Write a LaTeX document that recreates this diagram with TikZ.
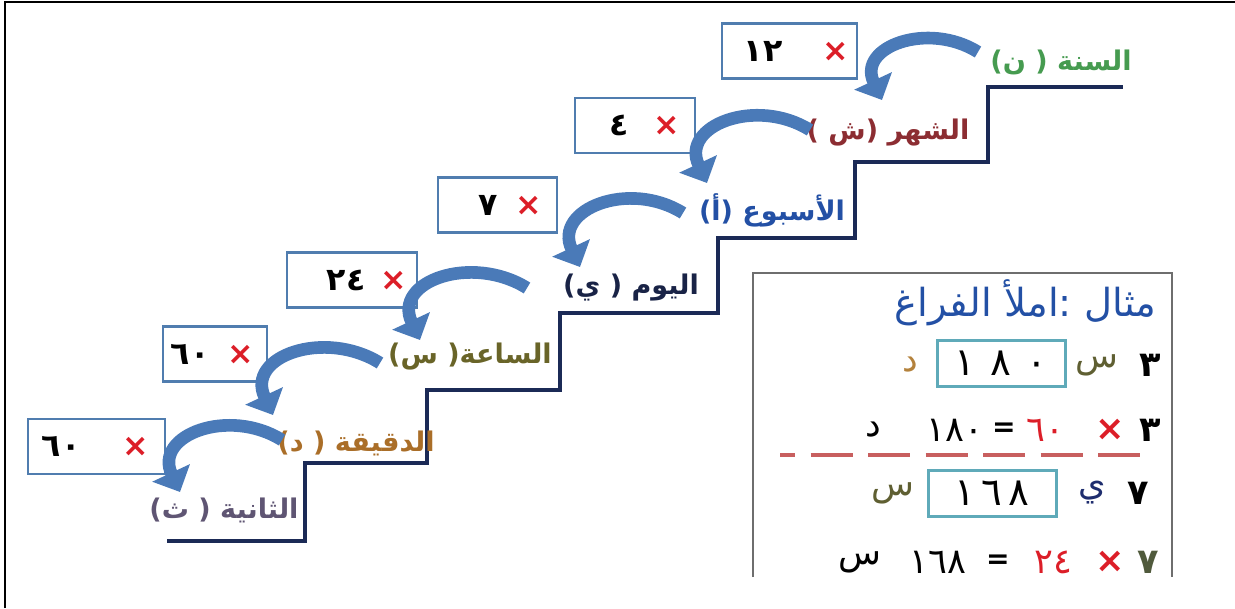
\documentclass[tikz,border=0pt]{standalone}
\usepackage{fontspec}
\usetikzlibrary{arrows.meta,calc}
\TeXXeTstate=1
\newfontfamily\arabicfont[Script=Arabic]{DejaVu Sans}
\definecolor{stair}{RGB}{27,42,86}
\definecolor{boxblue}{RGB}{80,125,175}
\definecolor{arrowblue}{RGB}{74,122,184}
\definecolor{multred}{RGB}{220,30,40}
\definecolor{cSana}{RGB}{70,155,80}
\definecolor{cShahr}{RGB}{140,45,50}
\definecolor{cUsbu}{RGB}{35,80,165}
\definecolor{cYawm}{RGB}{25,35,70}
\definecolor{cSaa}{RGB}{105,100,40}
\definecolor{cDaqiqa}{RGB}{170,110,40}
\definecolor{cThaniya}{RGB}{95,85,115}
\definecolor{panelgray}{RGB}{110,110,110}
\definecolor{tealline}{RGB}{95,170,185}
\definecolor{dashred}{RGB}{200,95,95}
\definecolor{sinolive}{RGB}{95,95,50}
\definecolor{dalbrown}{RGB}{180,130,60}
\definecolor{yablue}{RGB}{30,45,110}
\definecolor{sabagreen}{RGB}{80,90,60}
\newcommand\mult{\textcolor{multred}{\bfseries ×}}

\begin{document}
\begin{tikzpicture}[
  stairline/.style={draw=stair, line width=1pt},
  lbl/.style={inner sep=0pt, font=\arabicfont\bfseries\fontsize{7.7}{9}\selectfont},
  mbox/.style={draw=boxblue, line width=0.8pt, text width=#1, align=right,
    inner xsep=0pt, minimum height=0.55cm,
    font=\arabicfont\bfseries\fontsize{9}{10}\selectfont},
  bendarrow/.style={draw=arrowblue, line width=3.6pt,
    -{Triangle[width=11.5pt,length=6pt]}},
  ptxt/.style={inner sep=0pt, font=\arabicfont\fontsize{10}{12}\selectfont},
  eqsign/.style={inner sep=0pt, font=\arabicfont\bfseries\fontsize{8}{10}\selectfont},
  tealbox/.style={ptxt, draw=tealline, line width=0.85pt,
    minimum width=1.28cm, minimum height=0.46cm,
    font=\arabicfont\fontsize{11}{12}\selectfont}
]
\useasboundingbox (0,0) rectangle (12.35,6.08);
% frame of the page
\draw[line width=0.6pt] (0.05,0) -- (0.05,6.06) -- (12.35,6.06);

% stairs
\draw[stairline] (1.67,0.67) -- (3.05,0.67) -- (3.05,1.45) -- (4.27,1.45)
  -- (4.27,2.18) -- (5.60,2.18) -- (5.60,2.95) -- (7.18,2.95) -- (7.18,3.70)
  -- (8.55,3.70) -- (8.55,4.46) -- (9.88,4.46) -- (9.88,5.21) -- (11.23,5.21);

% units on the steps
\node[lbl, text=cSana] (sana) at (10.61,5.46) {\beginR السنة ( ن)\endR};
\node[lbl, text=cShahr] (shahr) at (8.88,4.75) {\beginR الشهر (ش )\endR};
\node[lbl, text=cUsbu] (usbu) at (7.72,3.98) {\beginR الأسبوع (أ)\endR};
\node[lbl, text=cYawm] (yawm) at (6.31,3.20) {\beginR اليوم ( ي)\endR};
\node[lbl, text=cSaa] (saa) at (4.70,2.51) {\beginR الساعة( س)\endR};
\node[lbl, text=cDaqiqa] (daqiqa) at (3.56,1.65) {\beginR الدقيقة ( د)\endR};
\node[lbl, text=cThaniya] (thaniya) at (2.24,0.98) {\beginR الثانية ( ث)\endR};

% multipliers
\node[mbox=1.35cm] (m1) at (7.895,5.57) {\mbox{١٢\hspace{0.4cm}\mult\hspace{0.08cm}}};
\node[mbox=1.20cm] (m2) at (6.35,4.825) {\mbox{٤\hspace{0.25cm}\mult\hspace{0.15cm}}};
\node[mbox=1.19cm] (m3) at (4.975,4.03) {\mbox{٧\hspace{0.18cm}\mult\hspace{0.15cm}}};
\node[mbox=1.30cm] (m4) at (3.52,3.28) {\mbox{٢٤\hspace{0.15cm}\mult\hspace{0.1cm}}};
\node[mbox=1.04cm] (m5) at (2.15,2.54) {\mbox{٦٠\hspace{0.18cm}\mult\hspace{0.13cm}}};
\node[mbox=1.37cm] (m6) at (0.965,1.615) {\mbox{٦٠\hspace{0.42cm}\mult\hspace{0.16cm}}};

% curved arrows down the stairs
\draw[bendarrow] ($(sana)+(-0.83,0.10)$) to[out=148,in=115,looseness=1.4] ($(shahr)+(-0.06,0.33)$);
\draw[bendarrow] ($(shahr)+(-0.78,0.03)$) to[out=148,in=115,looseness=1.4] ($(usbu)+(-0.65,0.27)$);
\draw[bendarrow] ($(usbu)+(-0.89,-0.03)$) to[out=148,in=115,looseness=1.4] ($(yawm)+(-0.51,0.21)$);
\draw[bendarrow] ($(yawm)+(-1.04,0)$) to[out=148,in=115,looseness=1.4] ($(saa)+(-0.50,0.17)$);
\draw[bendarrow] ($(saa)+(-0.90,-0.06)$) to[out=148,in=115,looseness=1.4] ($(daqiqa)+(-0.83,0.28)$);
\draw[bendarrow] ($(daqiqa)+(-0.74,0.03)$) to[out=148,in=115,looseness=1.4] ($(thaniya)+(-0.44,0.18)$);

% example panel
\draw[draw=panelgray, line width=0.6pt] (7.53,0.31) -- (7.53,3.35) -- (11.72,3.35) -- (11.72,0.31);
\node[ptxt, text=cUsbu, anchor=east, font=\arabicfont\fontsize{11}{13}\selectfont] (title)
  at (11.57,3.05) {\beginR مثال :املأ الفراغ\endR};

\node[ptxt, font=\arabicfont\bfseries\fontsize{10}{12}\selectfont] (a1) at (11.50,2.43) {٣};
\node[ptxt, text=sinolive] (a2) at (10.97,2.43) {س};
\node[tealbox] (a3) at (10.01,2.445) {١\hspace{0.15cm}٨\hspace{0.15cm}٠};
\node[ptxt, text=dalbrown] (a4) at (9.10,2.43) {د};

\node[ptxt, font=\arabicfont\bfseries\fontsize{10}{12}\selectfont] (b1) at (11.50,1.78) {٣};
\node[ptxt] (b2) at (11.10,1.78) {\mult};
\node[ptxt, text=multred] (b3) at (10.45,1.78) {٦٠};
\node[eqsign] (b4) at (10.04,1.78) {=};
\node[ptxt] (b5) at (9.55,1.78) {١٨٠};
\node[ptxt] (b6) at (8.73,1.78) {د};

\draw[dashred, line width=1.4pt, dash pattern=on 0.42cm off 0.155cm, dash phase=0.27cm]
  (7.80,1.53) -- (11.42,1.53);

\node[ptxt, font=\arabicfont\bfseries\fontsize{10}{12}\selectfont] (c1) at (11.38,1.15) {٧};
\node[ptxt, text=yablue] (c2) at (10.92,1.15) {ي};
\node[tealbox] (c3) at (9.92,1.15) {١\hspace{0.06cm}٦\hspace{0.06cm}٨};
\node[ptxt, text=sinolive] (c4) at (8.93,1.15) {س};

\begin{scope}
  \clip (7.53,0.31) rectangle (11.72,3.35);
  \node[ptxt, text=sabagreen, font=\arabicfont\bfseries\fontsize{10}{12}\selectfont] (d1) at (11.48,0.46) {٧};
  \node[ptxt] (d2) at (11.10,0.46) {\mult};
  \node[ptxt, text=multred] (d3) at (10.53,0.46) {٢٤};
  \node[eqsign] (d4) at (9.98,0.46) {=};
  \node[ptxt] (d5) at (9.38,0.46) {١٦٨};
  \node[ptxt] (d6) at (8.60,0.46) {س};
\end{scope}
\end{tikzpicture}
\end{document}
